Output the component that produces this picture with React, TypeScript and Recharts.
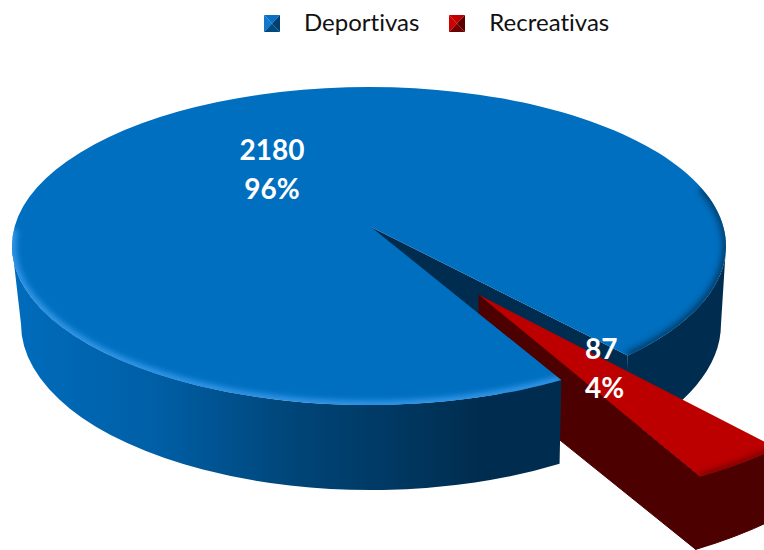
import { Legend, Pie, PieChart } from "recharts";

const categories = ["Deportivas", "Recreativas"];
const values = [2180, 87];
const fills = ["#006FC0", "#BC0000"];
const markerShades = [
  ["#0B70C4", "#1079CE", "#003F6F", "#004A80"],
  ["#C00000", "#D00000", "#5A0000", "#700000"],
];

const data = categories.map((name, i) => ({ name, value: values[i], fill: fills[i] }));

// fake 3D: how each slice is projected, relative to the pie centre
const TILT = 159 / 357;
const projection: Record<string, any> = {
  Deportivas: {
    dx: 0, dy: 0, scale: 1,
    apexDx: 2, apexDy: -19, depth: 80,
    bottomDx: 2, bottomDy: 78, bottomRx: 350, bottomRy: 166,
    wall: "url(#blue-wall)", dark: "#002D4F", rim: "#3C9EF0", rimDark: "#003A66",
  },
  Recreativas: {
    dx: 108, dy: 75, scale: 1.16,
    apexDx: 2, apexDy: -26, depth: 80,
    bottomDx: 0, bottomDy: 70, bottomRx: 406, bottomRy: 188,
    wall: "#4C0000", dark: "#4C0000", rim: "#BC0000", rimDark: "#6A0000",
  },
};

function rad(a: number) {
  return (a * Math.PI) / 180;
}

function getGeometry(props: any) {
  const p = projection[props.name];
  const cx = props.cx + p.dx;
  const cy = props.cy + p.dy;
  const rx = props.outerRadius * p.scale;
  const ry = rx * TILT;
  const top = (a: number) => [cx + rx * Math.cos(rad(a)), cy - ry * Math.sin(rad(a))];
  const bottom = (a: number) => [
    cx + p.bottomDx + p.bottomRx * Math.cos(rad(a)),
    cy + p.bottomDy - p.bottomRy * Math.sin(rad(a)),
  ];
  const apex = [cx + p.apexDx, cy + p.apexDy];
  const apexLow = [apex[0], apex[1] + p.depth];
  return { p, rx, ry, top, bottom, apex, apexLow };
}

// outer wall between two angles on the front of the pie, from must be left of to
function wallPath(g: any, from: number, to: number) {
  const [a, b, c, d] = [g.top(from), g.bottom(from), g.bottom(to), g.top(to)];
  return `M${a} L${b} A${g.p.bottomRx} ${g.p.bottomRy} 0 0 0 ${c} L${d} A${g.rx} ${g.ry} 0 0 1 ${a} Z`;
}

function topPath(g: any, start: number, end: number) {
  const big = Math.abs(end - start) > 180 ? 1 : 0;
  return `M${g.apex} L${g.top(start)} A${g.rx} ${g.ry} 0 ${big} 1 ${g.top(end)} Z`;
}

function arcPath(g: any, from: number, to: number) {
  const big = Math.abs(to - from) > 180 ? 1 : 0;
  return `M${g.top(from)} A${g.rx} ${g.ry} 0 ${big} 0 ${g.top(to)}`;
}

function BackSlice(props: any) {
  const g = getGeometry(props);
  const { startAngle, endAngle, fill, name } = props;
  if (name === categories[0]) {
    const gapFrom = endAngle + 360;
    const cutEnd = g.top(gapFrom);
    return (
      <g>
        <path d={wallPath(g, gapFrom, 0)} fill={g.p.dark} />
        <path
          d={`M${g.apex} L${cutEnd} L${cutEnd[0]} ${cutEnd[1] + g.p.depth} L${g.apexLow} Z`}
          fill={g.p.dark}
        />
      </g>
    );
  }
  const near = g.top(endAngle);
  const nearLow = g.bottom(endAngle);
  const clipId = "clip-red-top";
  return (
    <g>
      <path
        d={`M${g.apex} L${near} L${nearLow} L${g.apexLow} Z`}
        fill={g.p.dark}
        stroke={g.p.dark}
        strokeWidth={1}
      />
      <path d={wallPath(g, endAngle, startAngle)} fill={g.p.wall} stroke={g.p.wall} strokeWidth={1} />
      <clipPath id={clipId}>
        <path d={topPath(g, startAngle, endAngle)} />
      </clipPath>
      <path d={topPath(g, startAngle, endAngle)} fill={fill} />
      <g clipPath={`url(#${clipId})`}>
        <path
          d={arcPath(g, endAngle, startAngle)}
          fill="none"
          stroke={g.p.rimDark}
          strokeWidth={5}
          filter="url(#rim-blur)"
        />
      </g>
    </g>
  );
}

function FrontSlice(props: any) {
  if (props.name !== categories[0]) return null;
  const g = getGeometry(props);
  const { startAngle, endAngle, fill } = props;
  const clipId = "clip-blue-top";
  const d = topPath(g, startAngle, endAngle);
  return (
    <g>
      <path d={wallPath(g, -180, startAngle)} fill={g.p.wall} />
      <clipPath id={clipId}>
        <path d={d} />
      </clipPath>
      <path d={d} fill={fill} />
      <g clipPath={`url(#${clipId})`}>
        <path
          d={arcPath(g, -186, startAngle)}
          fill="none"
          stroke={g.p.rim}
          strokeWidth={7}
          filter="url(#rim-blur)"
        />
        <path
          d={arcPath(g, endAngle + 360, endAngle + 425)}
          fill="none"
          stroke={g.p.rimDark}
          strokeWidth={7}
          filter="url(#rim-blur)"
        />
      </g>
    </g>
  );
}

const labelPlacement: Record<string, any> = {
  Deportivas: { x: -97, y: -86, anchor: "middle" },
  Recreativas: { x: 216, y: 113, anchor: "start" },
};

function renderLabel(props: any) {
  const { cx, cy, name, value, percent } = props;
  const at = labelPlacement[name];
  const style = { fontFamily: "Lato", fontWeight: 700, fontSize: 28, fill: "#FFFFFF" };
  return (
    <text textAnchor={at.anchor} style={style}>
      <tspan x={cx + at.x} y={cy + at.y}>{value}</tspan>
      <tspan x={cx + at.x} y={cy + at.y + 39}>{`${Math.round(percent * 100)}%`}</tspan>
    </text>
  );
}

function Marker({ shades }: { shades: string[] }) {
  return (
    <svg width={16} height={17} viewBox="0 0 16 17" style={{ display: "block" }}>
      <polygon points="0,0 16,0 8,8.5" fill={shades[0]} />
      <polygon points="0,0 0,17 8,8.5" fill={shades[1]} />
      <polygon points="16,0 16,17 8,8.5" fill={shades[2]} />
      <polygon points="0,17 16,17 8,8.5" fill={shades[3]} />
    </svg>
  );
}

function renderLegend() {
  return (
    <div
      style={{
        display: "flex",
        alignItems: "center",
        paddingLeft: 264,
        height: 46,
        fontFamily: "Lato",
        fontSize: 24,
        fontVariantLigatures: "none",
        color: "#111111",
      }}
    >
      {categories.map((name, i) => (
        <div key={name} style={{ display: "flex", alignItems: "center", marginRight: 30 }}>
          <Marker shades={markerShades[i]} />
          <span style={{ marginLeft: 24, position: "relative", top: -2 }}>{name}</span>
        </div>
      ))}
    </div>
  );
}

export default function App() {
  const pieProps = {
    data,
    dataKey: "value",
    nameKey: "name",
    cx: 369,
    // the legend takes 46px off the top of the plot area
    cy: 200,
    outerRadius: 357,
    startAngle: -57.4,
    endAngle: -417.4,
    stroke: "none",
    isAnimationActive: false,
  };
  return (
    <div style={{ position: "absolute", left: 0, top: 0, width: 764, height: 550, overflow: "hidden" }}>
      <PieChart width={764} height={550} margin={{ top: 0, right: 0, bottom: 0, left: 0 }}>
        <defs>
          <linearGradient id="blue-wall" gradientUnits="userSpaceOnUse" x1="15" y1="0" x2="480" y2="0">
            <stop offset="0%" stopColor="#006CBC" />
            <stop offset="30%" stopColor="#005FA6" />
            <stop offset="60%" stopColor="#004578" />
            <stop offset="100%" stopColor="#002D4F" />
          </linearGradient>
          <filter id="rim-blur" x="-10%" y="-10%" width="120%" height="120%">
            <feGaussianBlur stdDeviation="3" />
          </filter>
        </defs>
        <Legend
          content={renderLegend}
          verticalAlign="top"
          wrapperStyle={{ left: 0, top: 0, width: 764 }}
        />
        <Pie {...pieProps} shape={BackSlice} legendType="none" />
        <Pie {...pieProps} shape={FrontSlice} label={renderLabel} labelLine={false} />
      </PieChart>
    </div>
  );
}
